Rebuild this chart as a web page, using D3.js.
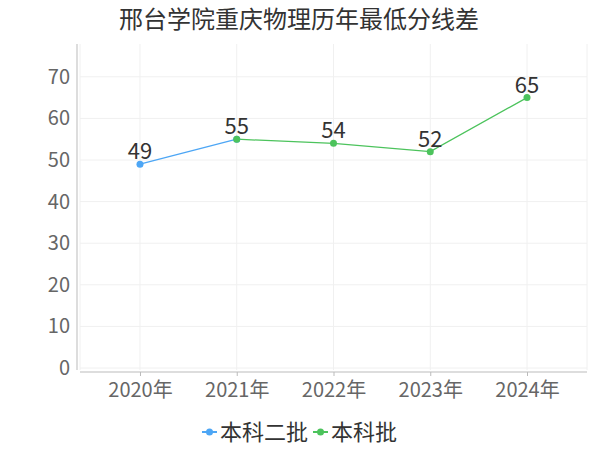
<!DOCTYPE html>
<html><head><meta charset="utf-8">
<script src="https://cdn.jsdelivr.net/npm/d3@7"></script>
<style>body{margin:0;background:#fff}svg{display:block;font-family:"Noto Sans CJK SC",sans-serif}</style>
</head><body><svg id="c" width="600" height="450"></svg>
<script>
const title = "邢台学院重庆物理历年最低分线差";
const categories = ["2020年","2021年","2022年","2023年","2024年"];
const seriesNames = ["本科二批","本科批"];
const seriesColors = ["#4da6f5","#4cc35c"];
const series1 = [49,55,null,null,null];
const series2 = [null,55,54,52,65];
const yTicks = [0,10,20,30,40,50,60,70];

const FONT = "'Noto Sans CJK SC',sans-serif";
const svg = d3.select("#c");
const L=80,R=587,T=44,B=370;
const x = d3.scalePoint().domain(categories).range([L,R]).padding(0.62);
const y = d3.scaleLinear().domain([0,78]).range([368,368-78*4.16]);

// grid
svg.append("g").selectAll("line").data(yTicks).join("line")
 .attr("x1",L).attr("x2",R).attr("y1",d=>y(d)).attr("y2",d=>y(d))
 .attr("stroke","#f0f0f0");
svg.append("g").selectAll("line").data(categories).join("line")
 .attr("x1",d=>x(d)).attr("x2",d=>x(d)).attr("y1",T).attr("y2",B)
 .attr("stroke","#f0f0f0");
svg.append("line").attr("x1",L).attr("x2",L).attr("y1",T).attr("y2",B).attr("stroke","#f0f0f0");
svg.append("line").attr("x1",R).attr("x2",R).attr("y1",T).attr("y2",B).attr("stroke","#f0f0f0");

// axes
const ya = d3.axisLeft(y).tickValues(yTicks).tickSize(0).tickPadding(7);
svg.append("g").attr("transform",`translate(77,0)`).call(ya)
 .call(g=>g.select(".domain").attr("stroke","#bbb").attr("d",`M0,${T}V${B}`))
 .call(g=>g.selectAll("text").attr("fill","#666").style("font-size","20px").style("font-family",FONT));
const xa = d3.axisBottom(x).tickSize(4).tickPadding(7);
svg.append("g").attr("transform",`translate(0,372)`).call(xa)
 .call(g=>g.select(".domain").attr("stroke","#bbb").attr("d",`M${L},0H${R}`))
 .call(g=>g.selectAll(".tick line").attr("stroke","#bbb"))
 .call(g=>g.selectAll("text").attr("fill","#666").style("font-size","20px").style("font-family",FONT));

// lines
const data = [series1,series2];
const line = d3.line().defined(d=>d!=null).x((d,i)=>x(categories[i])).y(d=>y(d));
data.forEach((s,k)=>{
  svg.append("path").datum(s).attr("d",line).attr("fill","none").attr("stroke",seriesColors[k]).attr("stroke-width",1.3);
});
data.forEach((s,k)=>{
  const pts = s.map((v,i)=>({v,i})).filter(d=>d.v!=null);
  svg.append("g").selectAll("circle").data(pts).join("circle")
   .attr("cx",d=>x(categories[d.i])).attr("cy",d=>y(d.v)).attr("r",3.5).attr("fill",seriesColors[k]);
});
// labels
const labels = {};
data.forEach(s=>s.forEach((v,i)=>{ if(v!=null) labels[i]=v; }));
svg.append("g").selectAll("text").data(Object.entries(labels)).join("text")
 .attr("x",d=>x(categories[+d[0]])).attr("y",d=>y(d[1])-5)
 .attr("text-anchor","middle").attr("fill","#333").style("font-size","22px").text(d=>d[1]);

// title
svg.append("text").attr("x",299).attr("y",28).attr("text-anchor","middle").attr("fill","#333")
 .style("font-size","24px").text(title);

// legend
const lg = svg.append("g");
let lx = 202;
seriesNames.forEach((n,k)=>{
  lg.append("line").attr("x1",lx).attr("x2",lx+15).attr("y1",432).attr("y2",432).attr("stroke",seriesColors[k]).attr("stroke-width",2);
  lg.append("circle").attr("cx",lx+7.5).attr("cy",432).attr("r",3.5).attr("fill",seriesColors[k]);
  const t = lg.append("text").attr("x",lx+18).attr("y",440).attr("fill","#333").style("font-size","22px").text(n);
  lx += 18 + t.node().getComputedTextLength() + 5;
});
</script></body></html>
